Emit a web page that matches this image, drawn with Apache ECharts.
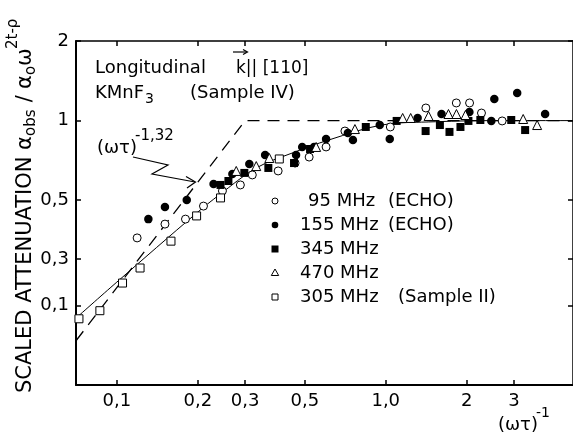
<!DOCTYPE html>
<html><head><meta charset="utf-8">
<script src="https://cdn.jsdelivr.net/npm/echarts@6/dist/echarts.min.js"></script>
<style>html,body{margin:0;padding:0;background:#fff}#c{width:573px;height:437px}</style>
</head><body><div id="c"></div>
<script>
// ---- axes ----
const xTickValues = [0.1, 0.2, 0.3, 0.5, 1, 2, 3];
const xTickLabels = ['0,1', '0,2', '0,3', '0,5', '1,0', '2', '3'];
const yTickValues = [0.2, 0.3, 0.5, 1, 2];
const yTickLabels = ['0,1', '0,3', '0,5', '1', '2'];
const X_MIN = 0.0705, X_MAX = 4.97, Y_MIN = 0.1, Y_MAX = 2;

// ---- data ----
const mhz95X = [0.119,0.151,0.180,0.210,0.247,0.288,0.319,0.398,0.460,0.519,0.600,0.705,1.04,1.41,1.83,2.05,2.27,2.71];
const mhz95Y = [0.360,0.406,0.424,0.475,0.542,0.571,0.623,0.645,0.691,0.728,0.795,0.913,0.946,1.116,1.166,1.166,1.068,0.997];
const mhz155X = [0.131,0.151,0.182,0.229,0.269,0.311,0.356,0.464,0.489,0.541,0.600,0.723,0.755,0.950,1.035,1.314,1.612,2.047,2.470,2.534,3.082,3.914];
const mhz155Y = [0.424,0.471,0.501,0.576,0.628,0.685,0.741,0.741,0.795,0.795,0.852,0.898,0.845,0.962,0.852,1.023,1.059,1.078,0.997,1.207,1.272,1.059];
const mhz345X = [0.243,0.260,0.298,0.366,0.456,0.523,0.843,1.098,1.407,1.59,1.726,1.896,2.030,2.248,2.929,3.299];
const mhz345Y = [0.571,0.591,0.634,0.662,0.691,0.781,0.946,0.997,0.913,0.962,0.906,0.946,0.997,1.005,1.005,0.921];
const mhz470X = [0.278,0.330,0.369,0.551,0.768,1.156,1.238,1.443,1.711,1.832,1.979,3.244,3.656];
const mhz470Y = [0.645,0.673,0.722,0.795,0.929,1.023,1.023,1.041,1.059,1.059,1.050,1.014,0.962];
const mhz305X = [0.0723,0.0865,0.105,0.122,0.159,0.198,0.243,0.402];
const mhz305Y = [0.178,0.191,0.243,0.277,0.350,0.436,0.510,0.716];
const curveX = [0.0705,0.1,0.198,0.240,0.330,0.449,0.615,0.966,1.53,2.62,4.97];
const curveY = [0.179,0.245,0.447,0.523,0.662,0.754,0.845,0.962,0.99,1.0,1.0];
const asymX = [0.0705,0.30,4.97];
const asymY = [0.147,1.0,1.0];

const FONT = 'DejaVu Sans';
const pairs = (xs, ys) => xs.map((x, i) => [x, ys[i]]);
const lab = (vals, labels) => v => { const i = vals.findIndex(t => Math.abs(t - v) / t < 1e-6); return i < 0 ? '' : labels[i]; };

function xAx(pos, withLabels, lw) {
  return {
    type: 'log', logBase: 10, min: X_MIN, max: X_MAX, position: pos,
    axisLine: { show: true, lineStyle: { color: '#000', width: lw } },
    axisTick: { show: true, inside: true, length: 5, customValues: xTickValues, lineStyle: { color: '#000', width: 1.5 } },
    axisLabel: { show: withLabels, customValues: xTickValues, formatter: lab(xTickValues, xTickLabels),
      margin: 7, fontSize: 18, fontFamily: FONT, color: '#000' },
    splitLine: { show: false }, minorTick: { show: false }
  };
}
function yAx(pos, withLabels, lw) {
  return {
    type: 'log', logBase: 10, min: Y_MIN, max: Y_MAX, position: pos,
    axisLine: { show: true, lineStyle: { color: '#000', width: lw } },
    axisTick: { show: true, inside: true, length: 5, customValues: yTickValues, lineStyle: { color: '#000', width: 1.5 } },
    axisLabel: { show: withLabels, customValues: yTickValues, formatter: lab(yTickValues, yTickLabels),
      margin: 7, fontSize: 18, fontFamily: FONT, color: '#000' },
    splitLine: { show: false }, minorTick: { show: false }
  };
}

const open = { color: '#fff', borderColor: '#000', borderWidth: 1, opacity: 1 };
const fill = { color: '#000', borderColor: '#000', borderWidth: 0, opacity: 1 };
function sc(name, xs, ys, symbol, size, style) {
  return { name, type: 'scatter', data: pairs(xs, ys), symbol, symbolSize: size, itemStyle: style, z: 5, silent: true };
}

function t(text, x, y, size, extra) {
  return Object.assign({ type: 'text', x, y, silent: true,
    style: { text, fontSize: size, fontFamily: FONT, fill: '#000',
      textAlign: 'left', textVerticalAlign: 'middle', align: 'left', verticalAlign: 'middle' } }, extra || {});
}
function rt(text, x, y, size) { return t(text, x, y, size, { rotation: Math.PI / 2 }); }

const legendRows = [
  { y: 201, sym: 'circle-open', text: '95 MHz', tx: 308, extra: '(ECHO)', ex: 388 },
  { y: 225, sym: 'circle-fill', text: '155 MHz', tx: 300, extra: '(ECHO)', ex: 388 },
  { y: 249, sym: 'rect-fill', text: '345 MHz', tx: 300 },
  { y: 273, sym: 'tri-open', text: '470 MHz', tx: 300 },
  { y: 297, sym: 'rect-open', text: '305 MHz', tx: 300, extra: '(Sample II)', ex: 398 }
];
const lx = 275;
const legendGraphics = [];
legendRows.forEach(r => {
  if (r.sym === 'circle-open') legendGraphics.push({ type: 'circle', shape: { cx: lx, cy: r.y, r: 3 }, style: { fill: '#fff', stroke: '#000', lineWidth: 1 } });
  if (r.sym === 'circle-fill') legendGraphics.push({ type: 'circle', shape: { cx: lx, cy: r.y, r: 3.3 }, style: { fill: '#000' } });
  if (r.sym === 'rect-fill') legendGraphics.push({ type: 'rect', shape: { x: lx - 3.5, y: r.y - 3.5, width: 7, height: 7 }, style: { fill: '#000' } });
  if (r.sym === 'rect-open') legendGraphics.push({ type: 'rect', shape: { x: lx - 3, y: r.y - 3, width: 6, height: 6 }, style: { fill: '#fff', stroke: '#000', lineWidth: 1 } });
  if (r.sym === 'tri-open') legendGraphics.push({ type: 'polygon', shape: { points: [[lx, r.y - 4], [lx + 3.7, r.y + 2.5], [lx - 3.7, r.y + 2.5]] }, style: { fill: '#fff', stroke: '#000', lineWidth: 1 } });
  legendGraphics.push(t(r.text, r.tx, r.y, 18));
  if (r.extra) legendGraphics.push(t(r.extra, r.ex, r.y, 18));
});

const option = {
  animation: false,
  backgroundColor: '#fff',
  grid: { left: 76, right: -2, top: 41, bottom: 52, containLabel: false },
  xAxis: [xAx('bottom', true, 2), xAx('top', false, 1.5)],
  yAxis: [yAx('left', true, 2), yAx('right', false, 1.5)],
  series: [
    { name: 'fit', type: 'line', data: pairs(curveX, curveY), smooth: 0.35, showSymbol: false, symbol: 'none',
      lineStyle: { color: '#000', width: 1 }, z: 2, silent: true },
    { name: 'asymptote', type: 'line', data: pairs(asymX, asymY), showSymbol: false, symbol: 'none',
      lineStyle: { color: '#000', width: 1.3, type: [12, 8] }, z: 2, silent: true },
    sc('95 MHz (ECHO)', mhz95X, mhz95Y, 'circle', 8, open),
    sc('155 MHz (ECHO)', mhz155X, mhz155Y, 'circle', 8.5, fill),
    sc('345 MHz', mhz345X, mhz345Y, 'rect', 8, fill),
    sc('470 MHz', mhz470X, mhz470Y, 'triangle', 9, open),
    sc('305 MHz (Sample II)', mhz305X, mhz305Y, 'rect', 8, open)
  ],
  graphic: [
    // y-axis title
    rt('SCALED ATTENUATION', 25.5, 393, 21),
    rt('α', 25.5, 150, 21),
    rt('obs', 31.5, 136, 15),
    rt(' / ', 25.5, 109, 21),
    rt('α', 25.5, 89, 21),
    rt('o', 31.5, 75, 15),
    rt('ω', 25.5, 66, 21),
    rt('2t-ρ', 13.5, 49, 15),
    // annotations
    t('Longitudinal', 95, 68.5, 18),
    t('k|| [110]', 236, 68.5, 17),
    { type: 'line', shape: { x1: 233, y1: 52, x2: 247, y2: 52 }, style: { stroke: '#000', lineWidth: 1.2 } },
    { type: 'polyline', shape: { points: [[243, 49.5], [247.5, 52], [243, 54.5]] }, style: { stroke: '#000', lineWidth: 1.2, fill: null } },
    t('KMnF', 95, 93.5, 18),
    t('3', 145, 99, 14),
    t('(Sample IV)', 190, 93.5, 18),
    t('(ωτ)', 97, 148, 18),
    t('-1,32', 135, 136, 15),
    { type: 'polyline', shape: { points: [[133, 157], [168, 165], [152, 174], [195, 182]] }, style: { stroke: '#000', lineWidth: 1.2, fill: null } },
    { type: 'polyline', shape: { points: [[186, 176.5], [195.5, 182], [187, 188]] }, style: { stroke: '#000', lineWidth: 1.2, fill: null } },
    // x axis name
    t('(ωτ)', 498, 425, 18),
    t('-1', 536, 413, 14)
  ].concat(legendGraphics)
};
const chart = echarts.init(document.getElementById('c'), null, { renderer: 'canvas' });
chart.setOption(option);
</script>
</body></html>
